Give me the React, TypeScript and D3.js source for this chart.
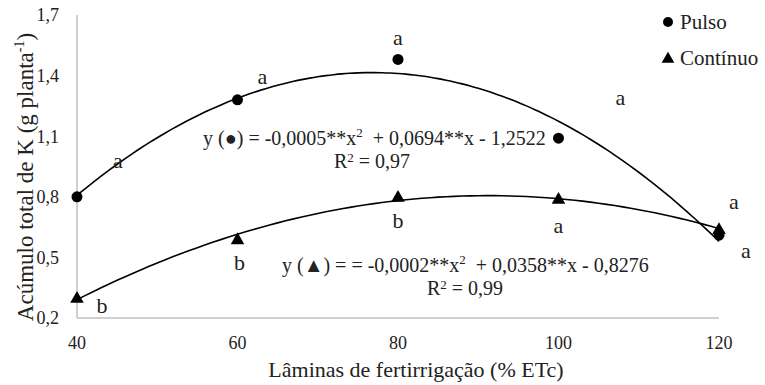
import React from 'react';
import * as d3 from 'd3';

const laminas = [40, 60, 80, 100, 120];
const pulso = [0.8, 1.28, 1.48, 1.09, 0.61];
const continuo = [0.3, 0.59, 0.8, 0.79, 0.64];
const pulsoLetters = ['a', 'a', 'a', 'a', 'a'];
const continuoLetters = ['b', 'b', 'b', 'a', 'a'];
const yTicks = [0.2, 0.5, 0.8, 1.1, 1.4, 1.7];

// least squares quadratic (Excel-style trendline)
function fitQuad(xs: number[], ys: number[]) {
  const n = xs.length;
  let s1 = 0, s2 = 0, s3 = 0, s4 = 0, t0 = 0, t1 = 0, t2 = 0;
  xs.forEach((x, i) => {
    const y = ys[i];
    s1 += x; s2 += x * x; s3 += x ** 3; s4 += x ** 4;
    t0 += y; t1 += x * y; t2 += x * x * y;
  });
  const M = [[n, s1, s2, t0], [s1, s2, s3, t1], [s2, s3, s4, t2]];
  for (let i = 0; i < 3; i++) {
    for (let j = i + 1; j < 3; j++) {
      const f = M[j][i] / M[i][i];
      for (let k = i; k < 4; k++) M[j][k] -= f * M[i][k];
    }
  }
  const c = [0, 0, 0];
  for (let i = 2; i >= 0; i--) {
    let s = M[i][3];
    for (let k = i + 1; k < 3; k++) s -= M[i][k] * c[k];
    c[i] = s / M[i][i];
  }
  return (x: number) => c[0] + c[1] * x + c[2] * x * x;
}

const W = 765, H = 385;
const tf = { fontFamily: "'Liberation Serif'", fill: '#222' };

const x = d3.scaleLinear().domain([40, 120]).range([77, 719]);
const y = d3.scaleLinear().domain([0.2, 1.7]).range([318, 15]);
const line = d3.line<[number, number]>().x(d => x(d[0])).y(d => y(d[1])).curve(d3.curveBasis);
const xsDense = d3.range(40, 120.5, 1);
const tri = d3.symbol().type(d3.symbolTriangle).size(80)() as string;
const triLegend = d3.symbol().type(d3.symbolTriangle).size(70)() as string;

// label offsets in px relative to each point
const pOff = [[41, -37], [25, -24], [0, -22], [62, -41], [27, 15]];
const cOff = [[25, 7], [2, 23], [0, 23], [0, 26], [15, -28]];

const Equation = ({ tx, ty, sym, a, b, c, r2, rx }: any) => (
  <g>
    <text x={tx} y={ty} dy="0.35em" fontSize={20} style={tf}>
      <tspan>{`y (${sym}) = ${a}**x`}</tspan>
      <tspan fontSize={13} dy={-8}>2</tspan>
      <tspan dy={8}>{`\u00a0 + ${b}**x - ${c}`}</tspan>
    </text>
    <text x={rx} y={ty + 23} dy="0.35em" fontSize={20} textAnchor="middle" style={tf}>
      <tspan>R</tspan>
      <tspan fontSize={13} dy={-6}>2</tspan>
      <tspan dy={6}>{' = ' + r2}</tspan>
    </text>
  </g>
);

const App = () => {
  const curves = [pulso, continuo].map(vals => {
    const f = fitQuad(laminas, vals);
    return line(xsDense.map(v => [v, f(v)] as [number, number])) as string;
  });

  return (
    <svg width={W} height={H} style={{ position: 'absolute', left: 0, top: 0, background: '#fff' }}>
      <line x1={x(40)} x2={x(40)} y1={y(1.7)} y2={y(0.2)} stroke="#bfbfbf" strokeWidth={1.5} />
      <line x1={x(40)} x2={x(120)} y1={y(0.2)} y2={y(0.2)} stroke="#bfbfbf" strokeWidth={1.5} />

      {yTicks.map(t => (
        <text key={t} x={59} y={y(t)} dy="0.35em" textAnchor="end" fontSize={18} style={tf}>
          {d3.format('.1f')(t).replace('.', ',')}
        </text>
      ))}
      {laminas.map(t => (
        <text key={t} x={x(t)} y={343} dy="0.35em" textAnchor="middle" fontSize={18} style={tf}>{t}</text>
      ))}

      <text x={416} y={369} dy="0.35em" textAnchor="middle" fontSize={22} style={tf}>Lâminas de fertirrigação (% ETc)</text>
      <text transform="translate(25,177) rotate(-90)" dy="0.35em" textAnchor="middle" fontSize={23} style={tf}>
        <tspan>Acúmulo total de K (g planta</tspan>
        <tspan fontSize={14} dy={-9}>-1</tspan>
        <tspan dy={9}>)</tspan>
      </text>

      {curves.map((d, i) => (
        <path key={i} d={d} fill="none" stroke="#000" strokeWidth={1.6} />
      ))}

      {laminas.map((t, i) => (
        <circle key={'c' + t} cx={x(t)} cy={y(pulso[i])} r={5.5} fill="#000" />
      ))}
      {laminas.map((t, i) => (
        <path key={'t' + t} d={tri} fill="#000" transform={`translate(${x(t)},${y(continuo[i]) + 1})`} />
      ))}

      {laminas.map((t, i) => (
        <text key={'pl' + t} x={x(t) + pOff[i][0]} y={y(pulso[i]) + pOff[i][1]} dy="0.35em"
          textAnchor="middle" fontSize={22} style={tf}>{pulsoLetters[i]}</text>
      ))}
      {laminas.map((t, i) => (
        <text key={'cl' + t} x={x(t) + cOff[i][0]} y={y(continuo[i]) + cOff[i][1]} dy="0.35em"
          textAnchor="middle" fontSize={22} style={tf}>{continuoLetters[i]}</text>
      ))}

      <Equation tx={203} ty={138} sym="●" a="-0,0005" b="0,0694" c="1,2522" r2="0,97" rx={372} />
      <Equation tx={282} ty={265} sym="▲" a="= -0,0002" b="0,0358" c="0,8276" r2="0,99" rx={465} />

      <circle cx={668} cy={22} r={5} fill="#000" />
      <text x={680} y={22} dy="0.35em" fontSize={21} style={tf}>Pulso</text>
      <path d={triLegend} fill="#000" transform="translate(668,59)" />
      <text x={680} y={58} dy="0.35em" fontSize={21} style={tf}>Contínuo</text>
    </svg>
  );
};

export default App;
